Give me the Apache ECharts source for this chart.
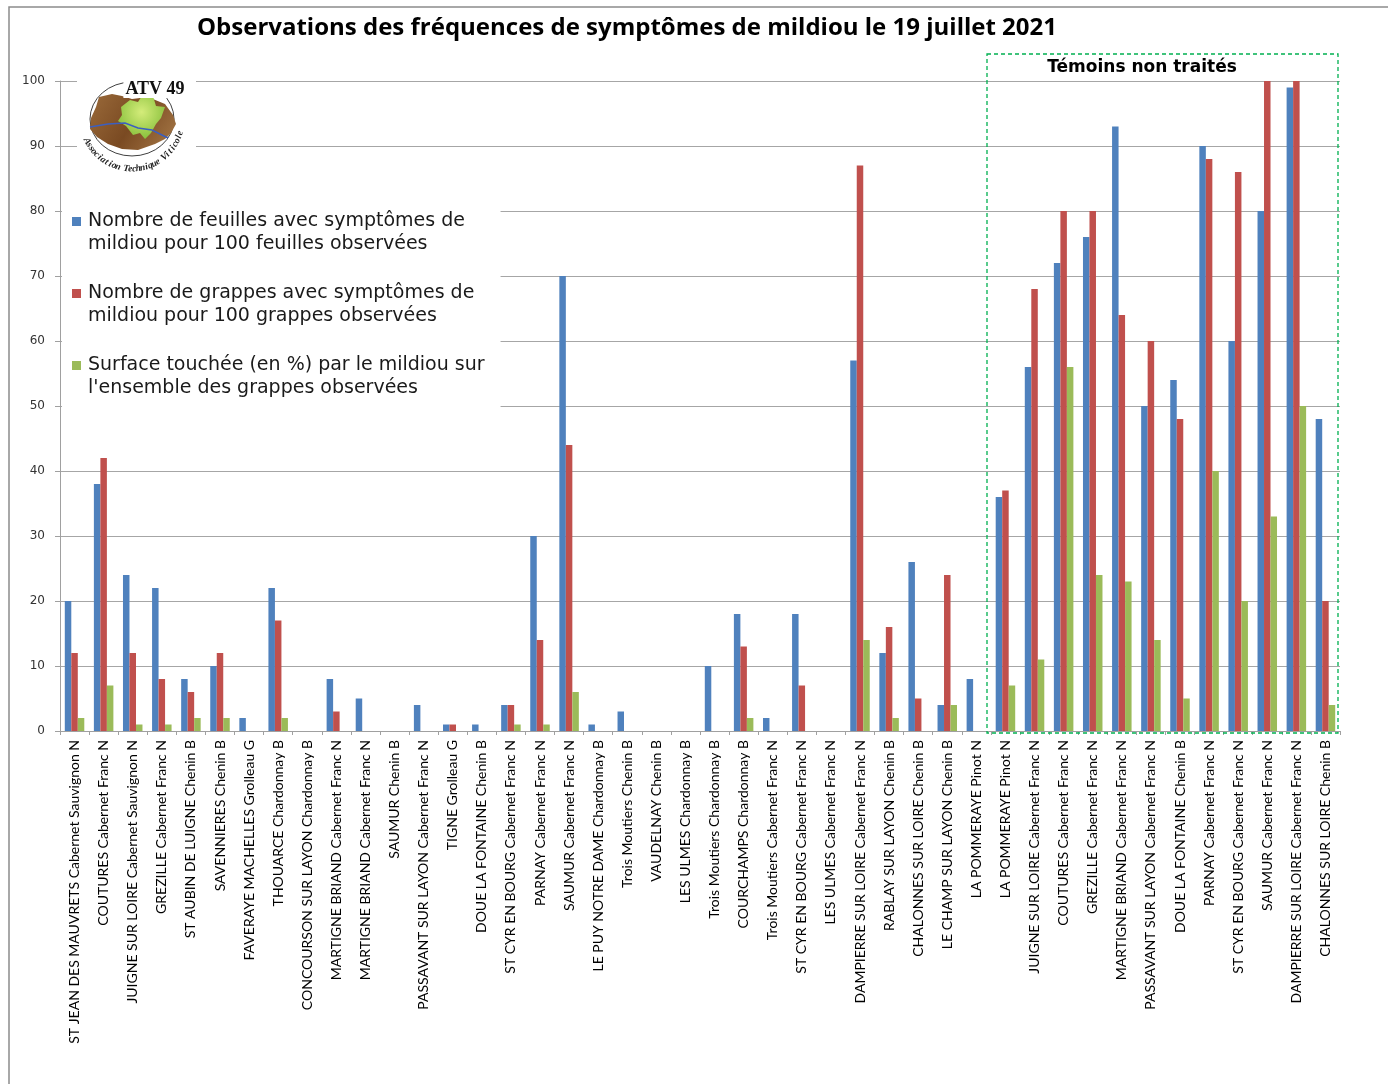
<!DOCTYPE html>
<html>
<head>
<meta charset="utf-8">
<script src="https://cdn.jsdelivr.net/npm/echarts@6/dist/echarts.min.js"></script>
<style>
html,body{margin:0;padding:0;background:#fff;}
#c{width:1388px;height:1084px;}
</style>
</head>
<body>
<div id="c"></div>
<script>
const categories = [
  "ST JEAN DES MAUVRETS Cabernet Sauvignon N",
  "COUTURES Cabernet Franc N",
  "JUIGNE SUR LOIRE Cabernet Sauvignon N",
  "GREZILLE Cabernet Franc N",
  "ST AUBIN DE LUIGNE Chenin B",
  "SAVENNIERES Chenin B",
  "FAVERAYE MACHELLES Grolleau G",
  "THOUARCE Chardonnay B",
  "CONCOURSON SUR LAYON Chardonnay B",
  "MARTIGNE BRIAND Cabernet Franc N",
  "MARTIGNE BRIAND Cabernet Franc N",
  "SAUMUR Chenin B",
  "PASSAVANT SUR LAYON Cabernet Franc N",
  "TIGNE Grolleau G",
  "DOUE LA FONTAINE Chenin B",
  "ST CYR EN BOURG Cabernet Franc N",
  "PARNAY Cabernet Franc N",
  "SAUMUR Cabernet Franc N",
  "LE PUY NOTRE DAME Chardonnay B",
  "Trois Moutiers Chenin B",
  "VAUDELNAY Chenin B",
  "LES ULMES Chardonnay B",
  "Trois Moutiers Chardonnay B",
  "COURCHAMPS Chardonnay B",
  "Trois Moutiers Cabernet Franc N",
  "ST CYR EN BOURG Cabernet Franc N",
  "LES ULMES Cabernet Franc N",
  "DAMPIERRE SUR LOIRE Cabernet Franc N",
  "RABLAY SUR LAYON Chenin B",
  "CHALONNES SUR LOIRE Chenin B",
  "LE CHAMP SUR LAYON Chenin B",
  "LA POMMERAYE Pinot N",
  "LA POMMERAYE Pinot N",
  "JUIGNE SUR LOIRE Cabernet Franc N",
  "COUTURES Cabernet Franc N",
  "GREZILLE Cabernet Franc N",
  "MARTIGNE BRIAND Cabernet Franc N",
  "PASSAVANT SUR LAYON Cabernet Franc N",
  "DOUE LA FONTAINE Chenin B",
  "PARNAY Cabernet Franc N",
  "ST CYR EN BOURG Cabernet Franc N",
  "SAUMUR Cabernet Franc N",
  "DAMPIERRE SUR LOIRE Cabernet Franc N",
  "CHALONNES SUR LOIRE Chenin B"
];

const feuilles = [20, 38, 24, 22, 8, 10, 2, 22, 0, 8, 5, 0, 4, 1, 1, 4, 30, 70, 1, 3, 0, 0, 10, 18, 2, 18, 0, 57, 12, 26, 4, 8,
                  36, 56, 72, 76, 93, 50, 54, 90, 60, 80, 99, 48];
const grappes  = [12, 42, 12, 8, 6, 12, 0, 17, 0, 3, 0, 0, 0, 1, 0, 4, 14, 44, 0, 0, 0, 0, 0, 13, 0, 7, 0, 87, 16, 5, 24, 0,
                  37, 68, 80, 80, 64, 60, 48, 88, 86, 100, 100, 20];
const surface  = [2, 7, 1, 1, 2, 2, 0, 2, 0, 0, 0, 0, 0, 0, 0, 1, 1, 6, 0, 0, 0, 0, 0, 2, 0, 0, 0, 14, 2, 0, 4, 0,
                  7, 11, 56, 24, 23, 14, 5, 40, 20, 33, 50, 4];

const seriesNames = [
  "Nombre de feuilles avec symptômes de mildiou pour 100 feuilles observées",
  "Nombre de grappes avec symptômes de mildiou pour 100 grappes observées",
  "Surface touchée (en %) par le mildiou sur l'ensemble des grappes observées"
];
const legendLines = [
  ["Nombre de feuilles avec symptômes de", "mildiou pour 100 feuilles observées"],
  ["Nombre de grappes avec symptômes de", "mildiou pour 100 grappes observées"],
  ["Surface touchée (en %) par le mildiou sur", "l'ensemble des grappes observées"]
];
const titleText = "Observations des fréquences de symptômes de mildiou le 19 juillet 2021";
const boxLabel = "Témoins non traités";
const logoTitle = "ATV 49";
const logoArcText = "Association Technique Viticole";

const colors = ['#4F81BD', '#C0504D', '#9BBB59'];
const chart = echarts.init(document.getElementById('c'));

// curved logo text
const arcEls = [];
(function () {
  const cx = 132, cy = 119, r = 50;
  const a0 = 156, a1 = 14;
  const n = logoArcText.length;
  for (let i = 0; i < n; i++) {
    const th = a0 - (a0 - a1) * (i + 0.5) / n;
    const rad = th * Math.PI / 180;
    arcEls.push({
      type: 'text',
      x: cx + r * Math.cos(rad),
      y: cy + r * Math.sin(rad),
      rotation: (90 - th) * Math.PI / 180,
      style: {
        text: logoArcText[i],
        fontFamily: 'Liberation Serif',
        fontStyle: 'italic',
        fontWeight: 'bold',
        fontSize: 9.5,
        fill: '#222',
        align: 'center',
        verticalAlign: 'middle'
      },
      z: 12
    });
  }
})();

const rich = {
  g: { width: 7, lineHeight: 23 },
  s: { width: 16, lineHeight: 23 }
};
colors.forEach((c, i) => {
  rich['q' + i] = { width: 9, height: 9, backgroundColor: c, lineHeight: 23 };
});

const option = {
  animation: false,
  backgroundColor: '#ffffff',
  grid: { left: 60, right: 48, top: 81, bottom: 353, containLabel: false },
  legend: {
    orient: 'vertical',
    left: 62,
    top: 200,
    padding: [10, 16, 8, 5],
    backgroundColor: '#ffffff',
    itemWidth: 0,
    itemHeight: 0,
    itemGap: 26,
    icon: 'rect',
    data: seriesNames,
    formatter: function (name) {
      const i = seriesNames.indexOf(name);
      return '{q' + i + '| }{g| }' + legendLines[i][0] + '\n{s| }' + legendLines[i][1];
    },
    textStyle: {
      fontFamily: 'DejaVu Sans',
      fontSize: 19,
      lineHeight: 23,
      color: '#1a1a1a',
      rich: rich
    },
    z: 6
  },
  xAxis: {
    type: 'category',
    data: categories,
    axisLine: { lineStyle: { color: '#a0a0a0', width: 1 } },
    axisTick: { show: true, interval: 0, length: 4, lineStyle: { color: '#a0a0a0' } },
    axisLabel: {
      interval: 0,
      rotate: 90,
      margin: 9,
      fontFamily: 'Lato',
      fontSize: 14,
      color: '#000'
    },
    splitLine: { show: false }
  },
  yAxis: {
    type: 'value',
    min: 0,
    max: 100,
    interval: 10,
    axisLine: { show: true, lineStyle: { color: '#a0a0a0' } },
    axisTick: { show: true, length: 5, lineStyle: { color: '#a0a0a0' } },
    splitLine: { show: true, lineStyle: { color: '#a6a6a6', width: 1 } },
    axisLabel: { margin: 15, fontFamily: 'DejaVu Sans', fontSize: 12, color: '#333' }
  },
  series: [
    { name: seriesNames[0], type: 'bar', data: feuilles, barWidth: 6.5, barGap: '0%', itemStyle: { color: colors[0] }, z: 3 },
    { name: seriesNames[1], type: 'bar', data: grappes, barWidth: 6.5, barGap: '0%', itemStyle: { color: colors[1] }, z: 3 },
    { name: seriesNames[2], type: 'bar', data: surface, barWidth: 6.5, barGap: '0%', itemStyle: { color: colors[2] }, z: 3 }
  ],
  graphic: [
    // outer frame
    { type: 'rect', shape: { x: 9, y: 7, width: 1400, height: 1100 }, style: { fill: null, stroke: '#8c8c8c', lineWidth: 1.5 }, z: 1, silent: true },
    // title
    { type: 'text', x: 627, y: 28, style: { text: titleText, fontFamily: 'Open Sans', fontWeight: 'bold', fontSize: 24, fill: '#000', align: 'center', verticalAlign: 'middle' }, z: 10 },
    // dashed box for untreated controls
    { type: 'rect', shape: { x: 987, y: 54, width: 351, height: 679 }, style: { fill: null, stroke: '#00B050', lineWidth: 1.3, lineDash: [4, 3] }, z: 10, silent: true },
    { type: 'text', x: 1142, y: 68, style: { text: boxLabel, fontFamily: 'DejaVu Sans', fontWeight: 'bold', fontSize: 17, fill: '#000', align: 'center', verticalAlign: 'middle' }, z: 10 },
    // logo
    { type: 'rect', shape: { x: 77, y: 70, width: 119, height: 110 }, style: { fill: '#ffffff' }, z: 8, silent: true },
    { type: 'circle', x: 132, y: 119, scaleY: 0.88, shape: { cx: 0, cy: 0, r: 42 }, style: { fill: null, stroke: '#333', lineWidth: 1 }, z: 9, silent: true },
    { type: 'polygon', shape: { points: [[99, 97], [112, 94], [122, 96], [132, 99], [148, 97], [165, 104], [173, 115], [176, 124], [171, 133], [165, 139], [155, 144], [138, 150], [122, 149], [108, 144], [97, 137], [90, 129], [91, 118], [96, 107]] },
      style: { fill: { type: 'linear', x: 0, y: 0, x2: 1, y2: 1, colorStops: [{ offset: 0, color: '#9a6a3a' }, { offset: 0.5, color: '#7a4a22' }, { offset: 1, color: '#a87a48' }] } }, z: 10, silent: true },
    { type: 'polygon', shape: { points: [[121, 107], [130, 100], [138, 102], [143, 94], [153, 96], [156, 106], [165, 107], [161, 118], [156, 124], [151, 133], [145, 139], [140, 133], [133, 135], [126, 126], [118, 121], [122, 115]] },
      style: { fill: { type: 'radial', x: 0.5, y: 0.4, r: 0.7, colorStops: [{ offset: 0, color: '#d4ec7a' }, { offset: 1, color: '#7cb932' }] } }, z: 11, silent: true },
    { type: 'polyline', shape: { points: [[90, 127], [108, 124], [125, 123], [138, 128], [152, 130], [168, 138]] }, style: { stroke: '#3b5fc0', lineWidth: 1.5, fill: null }, z: 11, silent: true },
    { type: 'text', x: 155, y: 89, style: { text: logoTitle, fontFamily: 'Liberation Serif', fontWeight: 'bold', fontSize: 18, fill: '#111', align: 'center', verticalAlign: 'middle', backgroundColor: '#fff', padding: [0, 2] }, z: 12 }
  ].concat(arcEls)
};

chart.setOption(option);
</script>
</body>
</html>
